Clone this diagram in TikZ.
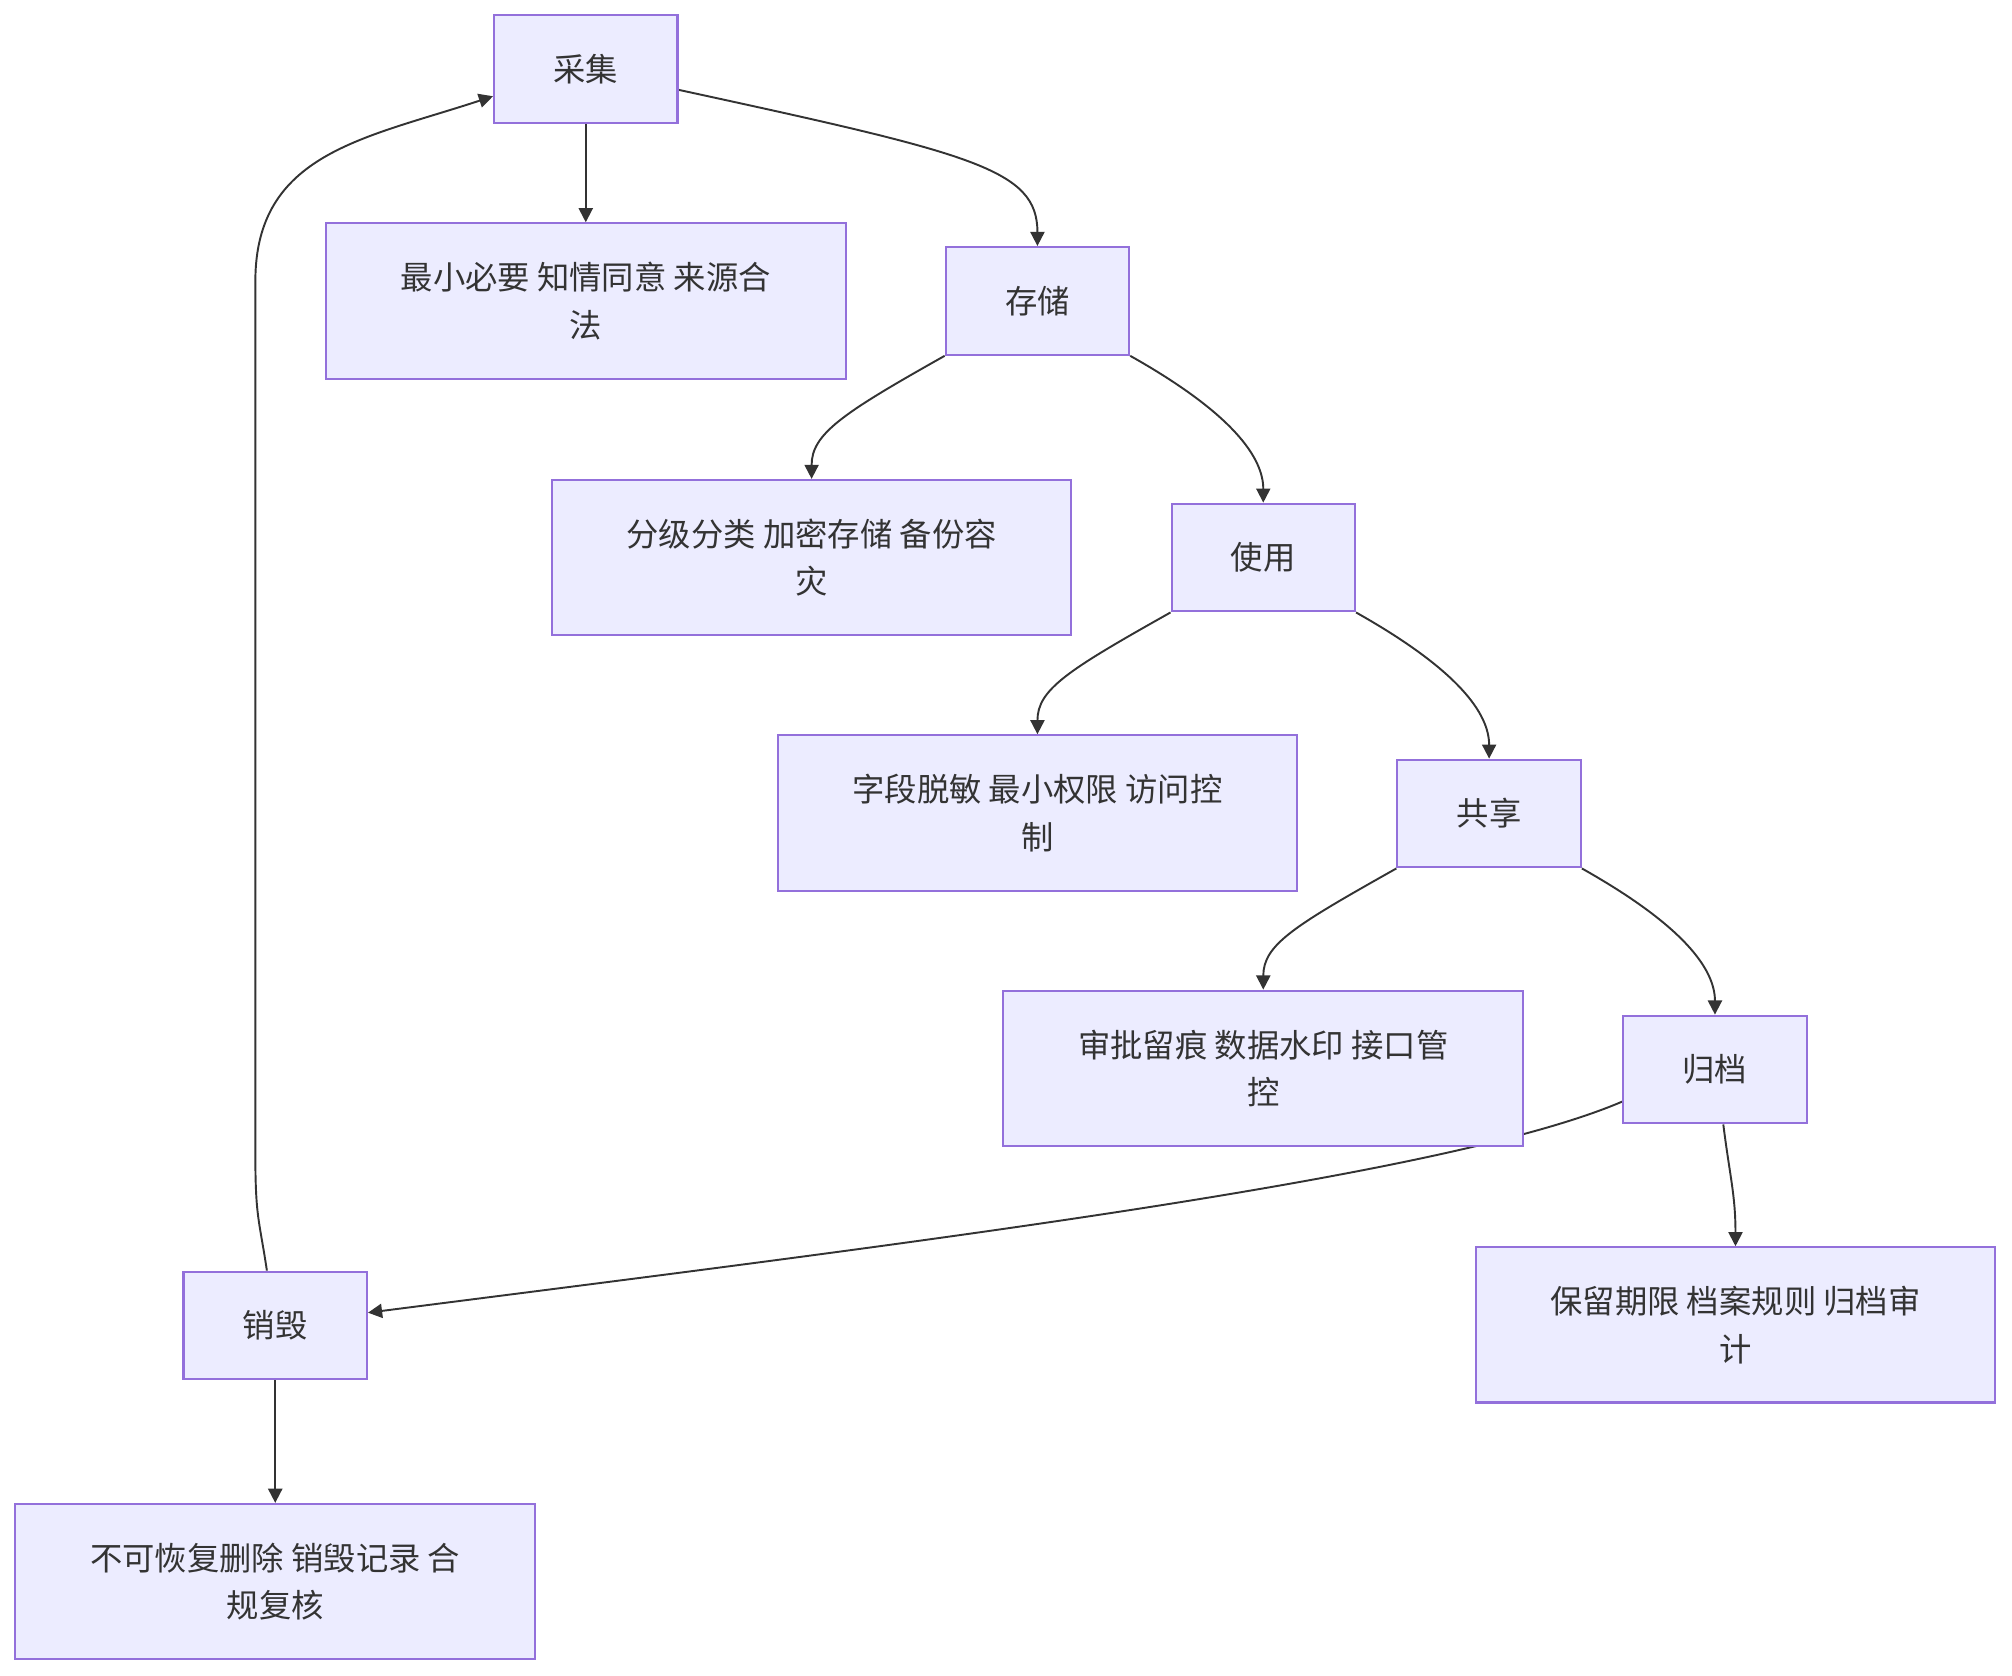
\documentclass[tikz,border=0pt]{standalone}
\usepackage{fontspec}
\usetikzlibrary{arrows.meta,backgrounds}
\newfontfamily\cjk{Noto Sans CJK SC}
\definecolor{FlowFill}{HTML}{ECECFF}
\definecolor{FlowBorder}{HTML}{9370DB}
\definecolor{FlowInk}{HTML}{333333}

\begin{document}
\begin{tikzpicture}[x=0.5pt,y=-0.5pt,
    stagebox/.style={draw=FlowBorder,fill=FlowFill,line width=0.8pt,
      minimum width=71.5pt,minimum height=42pt,inner sep=0pt,
      text=FlowInk,font=\cjk\fontsize{12.6}{18.5}\selectfont},
    notebox/.style={stagebox,minimum width=202.5pt,minimum height=60.5pt,
      align=center},
    flow/.style={-{Triangle[length=5.5pt,width=5.5pt]},FlowInk,
      line width=0.75pt}]
  \useasboundingbox (0,0) rectangle (1568,1306);

  % stages of the data life cycle
  \node[stagebox] (collect) at (456.5,54) {采集};
  \node[notebox] (collectNote) at (456.5,234.5)
    {最小必要 知情同意 来源合\\法};
  \node[stagebox] (store) at (808.5,234.5) {存储};
  \node[notebox] (storeNote) at (632.5,434.5)
    {分级分类 加密存储 备份容\\灾};
  \node[stagebox] (use) at (984.5,434.5) {使用};
  \node[notebox] (useNote) at (808.5,633.5)
    {字段脱敏 最小权限 访问控\\制};
  \node[stagebox] (share) at (1160.5,634) {共享};
  \node[notebox] (shareNote) at (984.5,832.5)
    {审批留痕 数据水印 接口管\\控};
  \node[stagebox] (archive) at (1336.5,833.5) {归档};
  \node[notebox] (archiveNote) at (1352.5,1032.5)
    {保留期限 档案规则 归档审\\计};
  \node[stagebox] (destroy) at (214.5,1033) {销毁};
  \node[notebox] (destroyNote) at (214.5,1232.5)
    {不可恢复删除 销毁记录 合\\规复核};

  \begin{scope}[on background layer]
    \draw[flow] (collect.south) -- (collectNote.north);
    \draw[flow] ([yshift=-8pt]collect.east)
      .. controls +(230,50) and +(0,-60) .. (store.north);

    \draw[flow] (store.south west)
      .. controls +(-80,45) and +(0,-35) .. (storeNote.north);
    \draw[flow] (store.south east)
      .. controls +(80,45) and +(0,-35) .. (use.north);

    \draw[flow] (use.south west)
      .. controls +(-80,45) and +(0,-35) .. (useNote.north);
    \draw[flow] (use.south east)
      .. controls +(80,45) and +(0,-35) .. (share.north);

    \draw[flow] (share.south west)
      .. controls +(-80,45) and +(0,-35) .. (shareNote.north);
    \draw[flow] (share.south east)
      .. controls +(80,45) and +(0,-35) .. (archive.north);

    \draw[flow] ([xshift=3.25pt]archive.south)
      .. controls +(5,40) and +(0,-40) .. (archiveNote.north);
    \draw[flow] ([yshift=-12.5pt]archive.west)
      .. controls +(-140,60) and +(414,-53) .. ([yshift=5pt]destroy.east);

    % back to the start
    \draw[flow] ([xshift=-3.25pt]destroy.north)
      .. controls +(-6,-40) and +(0,50) .. ++(-9,-91)
      -- ++(0,-680)
      .. controls +(0,-100) and +(-100,33) .. ([yshift=-10.5pt]collect.west);
    \draw[flow] (destroy.south) -- (destroyNote.north);
  \end{scope}
\end{tikzpicture}
\end{document}
